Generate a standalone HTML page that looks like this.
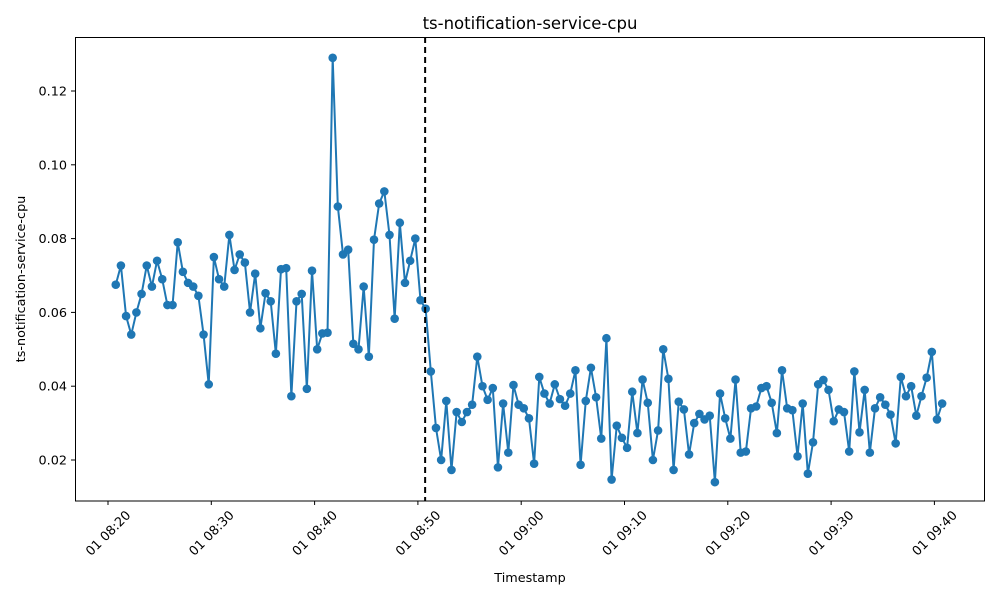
<!DOCTYPE html>
<html><head><meta charset="utf-8"><style>
body{margin:0;background:#fff;}
svg text{font-family:"DejaVu Sans","Liberation Sans",sans-serif;fill:#000;}
</style></head><body>
<svg id="chart" width="1000" height="600" xmlns="http://www.w3.org/2000/svg">
<rect x="0" y="0" width="1000" height="600" fill="#fff"/>
<g id="grid"></g>
<g id="series"></g>
<rect x="75.5" y="37.5" width="909" height="463.5" fill="none" stroke="#000" stroke-width="1"/>
<text x="530" y="29" font-size="16.5" text-anchor="middle">ts-notification-service-cpu</text>
<text x="530" y="582" font-size="12.8" text-anchor="middle">Timestamp</text>
<text transform="translate(25,279) rotate(-90)" font-size="12.8" text-anchor="middle">ts-notification-service-cpu</text>
</svg>
<script>
const values=[0.0675,0.0727,0.059,0.054,0.060,0.065,0.0727,0.067,0.074,0.069,0.062,0.062,0.079,0.071,0.068,0.067,0.0645,0.054,0.0405,0.075,
0.069,0.067,0.081,0.0715,0.0757,0.0735,0.060,0.0705,0.0557,0.0652,0.063,0.0488,0.0717,0.072,0.0373,0.063,0.065,0.0393,0.0713,0.050,
0.0543,0.0545,0.129,0.0887,0.0757,0.077,0.0515,0.050,0.067,0.048,0.0797,0.0895,0.0928,0.081,0.0583,0.0843,0.068,0.074,0.080,0.0633,
0.061,0.044,0.0287,0.020,0.036,0.0173,0.033,0.0303,0.033,0.035,0.048,0.040,0.0363,0.0395,0.018,0.0353,0.022,0.0403,0.035,0.034,
0.0313,0.019,0.0425,0.038,0.0353,0.0405,0.0365,0.0347,0.038,0.0443,0.0187,0.036,0.045,0.037,0.0258,0.053,0.0147,0.0293,0.026,0.0233,
0.0385,0.0273,0.0418,0.0355,0.020,0.028,0.050,0.042,0.0173,0.0358,0.0337,0.0215,0.030,0.0325,0.031,0.032,0.014,0.038,0.0313,0.0258,
0.0418,0.022,0.0223,0.034,0.0345,0.0395,0.040,0.0355,0.0273,0.0443,0.034,0.0335,0.021,0.0353,0.0163,0.0248,0.0405,0.0417,0.039,0.0305,
0.0337,0.033,0.0223,0.044,0.0275,0.039,0.022,0.034,0.037,0.035,0.0323,0.0245,0.0425,0.0373,0.040,0.032,0.0373,0.0423,0.0493,0.031,0.0353];
const startMinute=0.75, stepMinute=0.5;
const yTicks=[0.02,0.04,0.06,0.08,0.10,0.12];
const yTickLabels=["0.02","0.04","0.06","0.08","0.10","0.12"];
const xTicks=[0,10,20,30,40,50,60,70,80];
const xTickLabels=["01 08:20","01 08:30","01 08:40","01 08:50","01 09:00","01 09:10","01 09:20","01 09:30","01 09:40"];
const changeMinute=30.7;

const NS="http://www.w3.org/2000/svg";
function xs(m){return 108+m*10.33;}
function ys(v){return 460-(v-0.02)*3690;}
const svg=document.getElementById('chart');
const grid=document.getElementById('grid');
const ser=document.getElementById('series');
function mk(t,a,p){const e=document.createElementNS(NS,t);for(const k in a)e.setAttribute(k,a[k]);(p||svg).appendChild(e);return e;}

yTicks.forEach((v,i)=>{
  const y=ys(v);
  const tk=mk('line',{x1:71,x2:75,y1:y,y2:y,stroke:'#000'},grid);
  
  
  const t=mk('text',{x:67,y:y+4.5,'font-size':12.8,'text-anchor':'end'},grid);
  t.textContent=yTickLabels[i];
  
  
});
xTicks.forEach((m,i)=>{
  const x=xs(m);
  const tk=mk('line',{x1:x,x2:x,y1:501,y2:505,stroke:'#000'},grid);
  
  
  const t=mk('text',{x:0,y:4.5,'font-size':12.8,'text-anchor':'middle',transform:`translate(${x},${533}) rotate(-45)`},grid);
  t.textContent=xTickLabels[i];
  
  
});

const pts=values.map((v,i)=>[xs(startMinute+i*stepMinute),ys(v)]);
const line=mk('polyline',{points:pts.map(p=>p.join(',')).join(' '),fill:'none',stroke:'#1f77b4','stroke-width':2},ser);


pts.forEach(p=>{
  const c=mk('circle',{cx:p[0],cy:p[1],r:4.3,fill:'#1f77b4'},ser);
  
  
});
const dl=mk('line',{x1:xs(changeMinute),x2:xs(changeMinute),y1:37,y2:501,stroke:'#000','stroke-width':2,'stroke-dasharray':'6,4'},ser);


</script>
</body></html>
